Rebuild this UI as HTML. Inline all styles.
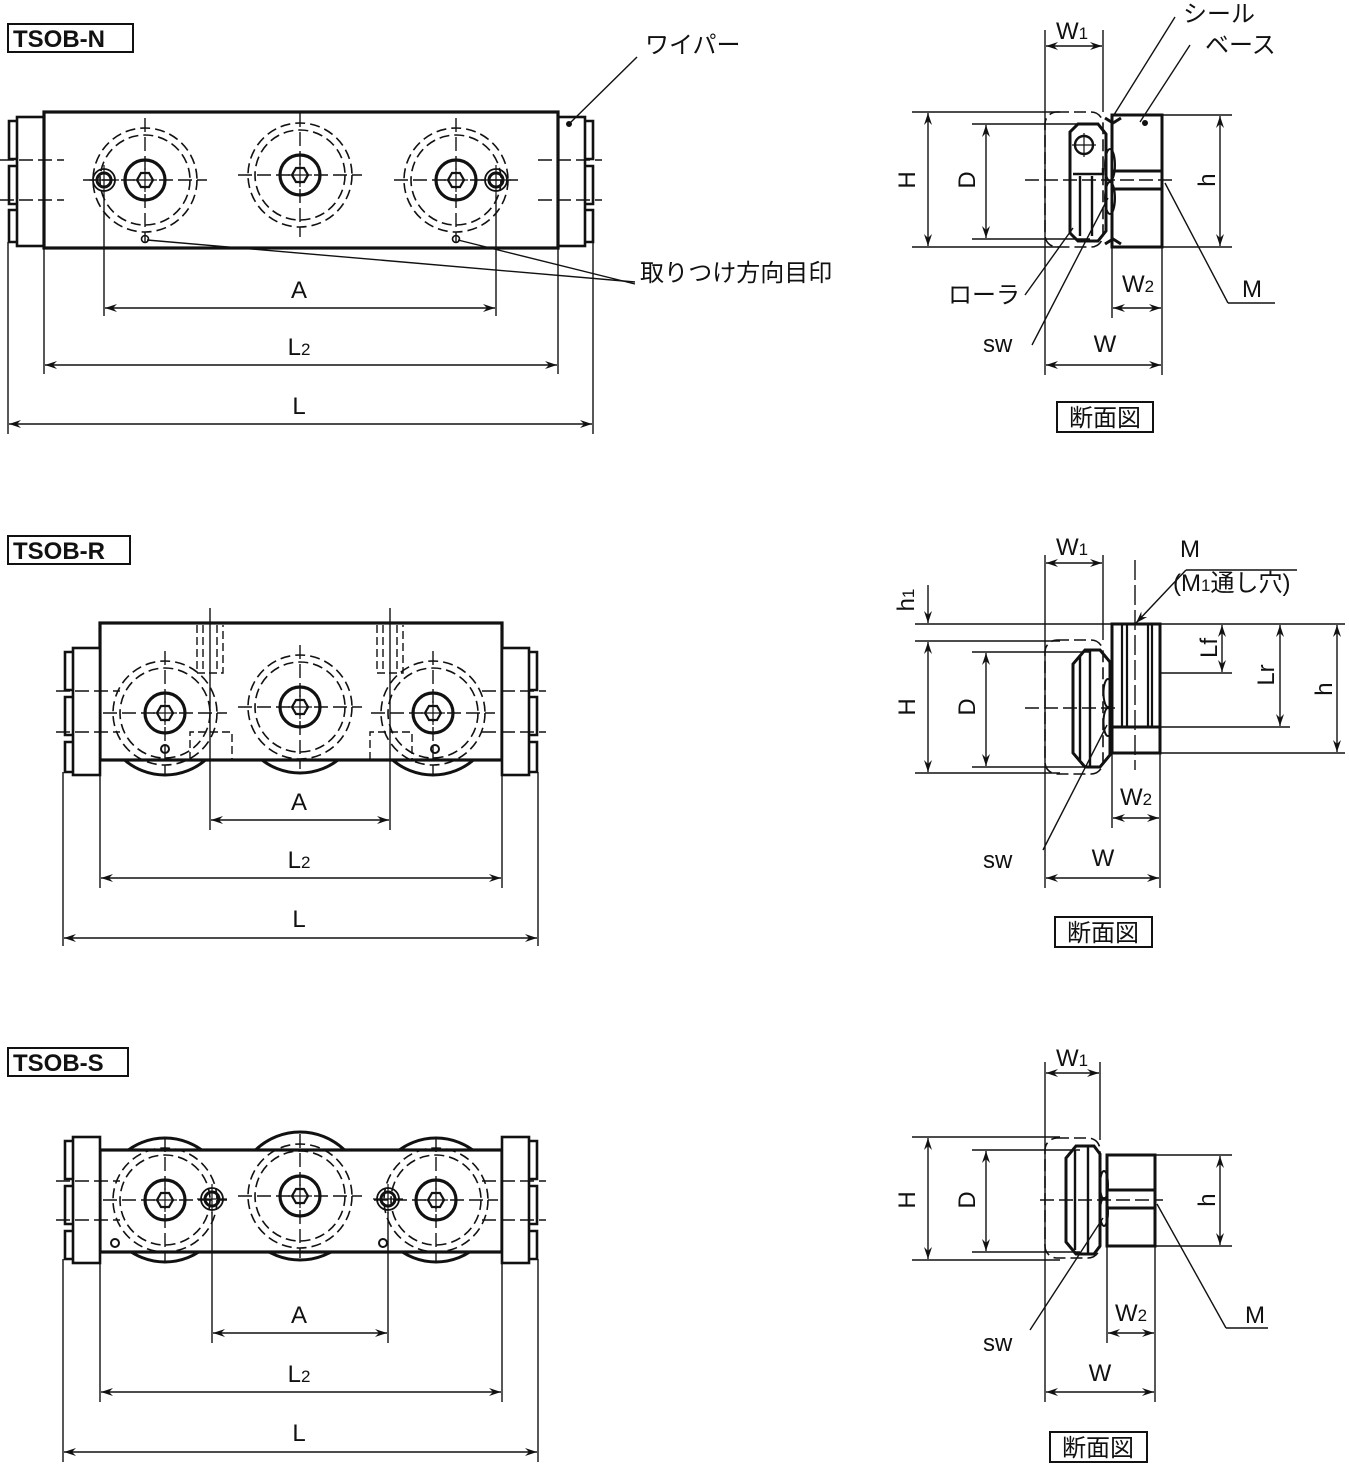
<!DOCTYPE html>
<html><head><meta charset="utf-8"><style>
html,body{margin:0;padding:0;background:#fff;}
svg{display:block;}
text{font-family:"Liberation Sans","Noto Sans CJK JP",sans-serif;fill:#111;}
.t{font-size:24px;}
.b{font-weight:bold;}
</style></head><body>
<svg width="1349" height="1467" viewBox="0 0 1349 1467" xmlns="http://www.w3.org/2000/svg">
<defs>
<marker id="a" viewBox="0 0 12 8" refX="12" refY="4" markerWidth="12" markerHeight="8" orient="auto-start-reverse" markerUnits="userSpaceOnUse"><path d="M0,0 L12,4 L0,8 L4,4 Z" fill="#111"/></marker>
<g id="roll">
<circle r="52" fill="none" stroke="#111" stroke-width="1.6" stroke-dasharray="10,5"/>
<circle r="45" fill="none" stroke="#111" stroke-width="1.6" stroke-dasharray="10,5"/>
<line x1="-62" y1="0" x2="62" y2="0" stroke="#111" stroke-width="1.4" stroke-dasharray="14,5"/>
<line x1="0" y1="-62" x2="0" y2="62" stroke="#111" stroke-width="1.4" stroke-dasharray="14,5"/>
<circle r="20" fill="none" stroke="#111" stroke-width="3.2"/>
<polygon points="8,0 4,7 -4,7 -8,0 -4,-7 4,-7" fill="#fff" stroke="#111" stroke-width="2.2"/>
<line x1="-12" y1="0" x2="12" y2="0" stroke="#111" stroke-width="1.2"/>
<line x1="0" y1="-12" x2="0" y2="12" stroke="#111" stroke-width="1.2"/>
</g>
<g id="pin">
<circle r="11" fill="none" stroke="#111" stroke-width="1.8"/>
<circle r="7" fill="none" stroke="#111" stroke-width="3"/>
<line x1="-15" y1="0" x2="15" y2="0" stroke="#111" stroke-width="1.2"/>
<line x1="0" y1="-15" x2="0" y2="15" stroke="#111" stroke-width="1.2"/>
</g>
</defs>

<g stroke="#111" fill="none">
<!-- ============ TSOB-N ============ -->
<rect x="8" y="24" width="125" height="28" stroke-width="2"/>
<rect x="44" y="112" width="514" height="136" stroke-width="3.2"/>
<rect x="17" y="117" width="27" height="129" stroke-width="2.6"/>
<rect x="558" y="117" width="27" height="129" stroke-width="2.6"/>
<path d="M17,121 h-8 v38 h8 M17,166 h-8 v38 h8 M17,210 h-8 v32 h8" stroke-width="2.6"/>
<path d="M585,121 h8 v38 h-8 M585,166 h8 v38 h-8 M585,210 h8 v32 h-8" stroke-width="2.6"/>
<g stroke-width="1.4" stroke-dasharray="14,5">
<line x1="0" y1="160" x2="64" y2="160"/><line x1="0" y1="200" x2="64" y2="200"/>
<line x1="538" y1="160" x2="602" y2="160"/><line x1="538" y1="200" x2="602" y2="200"/>
</g>
<use href="#roll" x="145" y="180"/>
<use href="#roll" x="300" y="175"/>
<use href="#roll" x="456" y="180"/>
<use href="#pin" x="104" y="180"/>
<use href="#pin" x="496" y="180"/>
<circle cx="145" cy="239" r="3.5" stroke-width="1.6"/>
<circle cx="456" cy="239" r="3.5" stroke-width="1.6"/>
<g stroke-width="1.4">
<line x1="104" y1="195" x2="104" y2="316"/><line x1="496" y1="195" x2="496" y2="316"/>
<line x1="44" y1="248" x2="44" y2="374"/><line x1="558" y1="248" x2="558" y2="374"/>
<line x1="8" y1="242" x2="8" y2="434"/><line x1="593" y1="242" x2="593" y2="434"/>
<line x1="105" y1="308" x2="495" y2="308" marker-start="url(#a)" marker-end="url(#a)"/>
<line x1="45" y1="365" x2="557" y2="365" marker-start="url(#a)" marker-end="url(#a)"/>
<line x1="9" y1="424" x2="592" y2="424" marker-start="url(#a)" marker-end="url(#a)"/>
<line x1="570" y1="123" x2="637" y2="57"/>
<line x1="147" y1="240" x2="635" y2="282"/>
<line x1="458" y1="240" x2="635" y2="284"/>
</g>
<circle cx="569" cy="124" r="2.5" fill="#111"/>

<!-- N section -->
<g stroke-width="1.4">
<line x1="1045" y1="30" x2="1045" y2="375"/>
<line x1="1103" y1="30" x2="1103" y2="112"/>
<line x1="1046" y1="46" x2="1102" y2="46" marker-start="url(#a)" marker-end="url(#a)"/>
<line x1="912" y1="112" x2="1060" y2="112"/><line x1="912" y1="247" x2="1060" y2="247"/>
<line x1="928" y1="113" x2="928" y2="246" marker-start="url(#a)" marker-end="url(#a)"/>
<line x1="972" y1="124" x2="1090" y2="124"/><line x1="972" y1="239" x2="1090" y2="239"/>
<line x1="986" y1="125" x2="986" y2="238" marker-start="url(#a)" marker-end="url(#a)"/>
<line x1="1162" y1="115" x2="1232" y2="115"/><line x1="1162" y1="247" x2="1232" y2="247"/>
<line x1="1220" y1="116" x2="1220" y2="246" marker-start="url(#a)" marker-end="url(#a)"/>
<line x1="1112" y1="247" x2="1112" y2="318"/><line x1="1162" y1="247" x2="1162" y2="375"/>
<line x1="1113" y1="308" x2="1161" y2="308" marker-start="url(#a)" marker-end="url(#a)"/>
<line x1="1046" y1="365" x2="1161" y2="365" marker-start="url(#a)" marker-end="url(#a)"/>
<line x1="1025" y1="180" x2="1175" y2="180" stroke-dasharray="14,5"/>
<line x1="1112" y1="118" x2="1175" y2="17"/>
<line x1="1140" y1="122" x2="1190" y2="45"/>
<line x1="1165" y1="183" x2="1228" y2="303"/><line x1="1228" y1="303" x2="1275" y2="303"/>
<line x1="1073" y1="228" x2="1025" y2="295"/>
<line x1="1108" y1="198" x2="1032" y2="345"/>
</g>
<rect x="1045" y="112" width="58" height="135" rx="12" stroke-width="1.6" stroke-dasharray="12,5"/>
<path d="M1078,124 h20 l8,10 v97 l-8,10 h-20 l-8,-8 v-101 z" stroke-width="3"/>
<circle cx="1084" cy="145" r="9" stroke-width="2.4"/>
<line x1="1072" y1="145" x2="1096" y2="145" stroke-width="1.2"/><line x1="1084" y1="133" x2="1084" y2="157" stroke-width="1.2"/>
<path d="M1073,174 h30 v-6 M1080,176 v60 M1092,176 v60" stroke-width="2.4"/>
<ellipse cx="1110" cy="165" rx="5" ry="16" stroke-width="2"/>
<ellipse cx="1110" cy="198" rx="5" ry="16" stroke-width="2"/>
<rect x="1112" y="115" width="50" height="132" stroke-width="3"/>
<line x1="1112" y1="171" x2="1162" y2="171" stroke-width="3"/><line x1="1112" y1="189" x2="1162" y2="189" stroke-width="3"/>
<path d="M1105,118 l8,5 l8,-5 M1105,244 l8,-5 l8,5" stroke-width="3"/>
<circle cx="1145" cy="123" r="2.5" fill="#111"/>
<rect x="1057" y="402" width="96" height="30" stroke-width="2"/>

<!-- ============ TSOB-R ============ -->
<rect x="8" y="536" width="122" height="28" stroke-width="2"/>
<circle cx="165" cy="713" r="62" stroke-width="3"/>
<circle cx="300" cy="711" r="62" stroke-width="3"/>
<circle cx="433" cy="713" r="62" stroke-width="3"/>
<rect x="100" y="623" width="402" height="137" fill="#fff" stroke-width="3.2"/>
<rect x="73" y="648" width="27" height="127" fill="#fff" stroke-width="2.6"/>
<rect x="502" y="648" width="27" height="127" fill="#fff" stroke-width="2.6"/>
<path d="M73,652 h-8 v38 h8 M73,697 h-8 v38 h8 M73,742 h-8 v30 h8" stroke-width="2.6"/>
<path d="M529,652 h8 v38 h-8 M529,697 h8 v38 h-8 M529,742 h8 v30 h-8" stroke-width="2.6"/>
<g stroke-width="1.4" stroke-dasharray="14,5">
<line x1="56" y1="691" x2="120" y2="691"/><line x1="56" y1="732" x2="120" y2="732"/>
<line x1="482" y1="691" x2="546" y2="691"/><line x1="482" y1="732" x2="546" y2="732"/>
</g>
<use href="#roll" x="165" y="713"/>
<use href="#roll" x="300" y="707"/>
<use href="#roll" x="433" y="713"/>
<circle cx="165" cy="749" r="4" stroke-width="2"/>
<circle cx="435" cy="749" r="4" stroke-width="2"/>
<g stroke-width="1.4" stroke-dasharray="8,4">
<path d="M197,625 v48 h26 v-48 M203,625 v48 M217,625 v48"/>
<path d="M377,625 v48 h26 v-48 M383,625 v48 M397,625 v48"/>
<path d="M190,760 v-28 h42 v28"/><path d="M370,760 v-28 h42 v28"/>
</g>
<g stroke-width="1.4">
<line x1="210" y1="608" x2="210" y2="830"/><line x1="390" y1="608" x2="390" y2="830"/>
<line x1="100" y1="760" x2="100" y2="888"/><line x1="502" y1="760" x2="502" y2="888"/>
<line x1="63" y1="772" x2="63" y2="946"/><line x1="538" y1="772" x2="538" y2="946"/>
<line x1="211" y1="820" x2="389" y2="820" marker-start="url(#a)" marker-end="url(#a)"/>
<line x1="101" y1="878" x2="501" y2="878" marker-start="url(#a)" marker-end="url(#a)"/>
<line x1="64" y1="938" x2="537" y2="938" marker-start="url(#a)" marker-end="url(#a)"/>
</g>

<!-- R section -->
<g stroke-width="1.4">
<line x1="1045" y1="555" x2="1045" y2="888"/>
<line x1="1103" y1="555" x2="1103" y2="640"/>
<line x1="1046" y1="563" x2="1102" y2="563" marker-start="url(#a)" marker-end="url(#a)"/>
<line x1="915" y1="624" x2="1112" y2="624"/><line x1="915" y1="641" x2="1060" y2="641"/>
<line x1="928" y1="585" x2="928" y2="623" marker-end="url(#a)"/>
<line x1="928" y1="642" x2="928" y2="772" marker-start="url(#a)" marker-end="url(#a)"/>
<line x1="915" y1="773" x2="1060" y2="773"/>
<line x1="972" y1="652" x2="1090" y2="652"/><line x1="972" y1="767" x2="1090" y2="767"/>
<line x1="986" y1="653" x2="986" y2="766" marker-start="url(#a)" marker-end="url(#a)"/>
<line x1="1160" y1="624" x2="1345" y2="624"/>
<line x1="1160" y1="673" x2="1232" y2="673"/>
<line x1="1160" y1="727" x2="1290" y2="727"/>
<line x1="1160" y1="753" x2="1345" y2="753"/>
<line x1="1222" y1="625" x2="1222" y2="672" marker-start="url(#a)" marker-end="url(#a)"/>
<line x1="1280" y1="625" x2="1280" y2="726" marker-start="url(#a)" marker-end="url(#a)"/>
<line x1="1337" y1="625" x2="1337" y2="752" marker-start="url(#a)" marker-end="url(#a)"/>
<line x1="1112" y1="753" x2="1112" y2="828"/><line x1="1160" y1="753" x2="1160" y2="888"/>
<line x1="1113" y1="818" x2="1159" y2="818" marker-start="url(#a)" marker-end="url(#a)"/>
<line x1="1046" y1="878" x2="1159" y2="878" marker-start="url(#a)" marker-end="url(#a)"/>
<line x1="1025" y1="708" x2="1120" y2="708" stroke-dasharray="14,5"/>
<line x1="1135" y1="560" x2="1135" y2="770" stroke-dasharray="20,5"/>
<line x1="1186" y1="570" x2="1297" y2="570"/>
<line x1="1186" y1="570" x2="1136" y2="623" marker-end="url(#a)"/>
<line x1="1107" y1="725" x2="1043" y2="850"/>
</g>
<rect x="1045" y="640" width="58" height="134" rx="12" stroke-width="1.6" stroke-dasharray="12,5"/>
<path d="M1085,650 h15 l10,12 v93 l-10,12 h-15 l-12,-14 v-89 z" stroke-width="3"/>
<path d="M1080,655 v105 M1090,650 v117" stroke-width="2.4"/>
<ellipse cx="1108" cy="693" rx="4.5" ry="14" stroke-width="2"/>
<ellipse cx="1108" cy="722" rx="4.5" ry="14" stroke-width="2"/>
<rect x="1112" y="624" width="48" height="129" stroke-width="3"/>
<path d="M1122,624 v103 M1127,624 v103 M1148,624 v103 M1152,624 v103" stroke-width="2.2"/>
<line x1="1112" y1="727" x2="1160" y2="727" stroke-width="3"/>
<rect x="1055" y="917" width="97" height="30" stroke-width="2"/>

<!-- ============ TSOB-S ============ -->
<rect x="8" y="1048" width="120" height="28" stroke-width="2"/>
<circle cx="165" cy="1200" r="62" stroke-width="3"/>
<circle cx="300" cy="1196" r="64" stroke-width="3"/>
<circle cx="436" cy="1200" r="62" stroke-width="3"/>
<rect x="100" y="1150" width="402" height="102" fill="#fff" stroke-width="3.2"/>
<rect x="73" y="1137" width="27" height="126" fill="#fff" stroke-width="2.6"/>
<rect x="502" y="1137" width="27" height="126" fill="#fff" stroke-width="2.6"/>
<path d="M73,1141 h-8 v38 h8 M73,1186 h-8 v38 h8 M73,1231 h-8 v28 h8" stroke-width="2.6"/>
<path d="M529,1141 h8 v38 h-8 M529,1186 h8 v38 h-8 M529,1231 h8 v28 h-8" stroke-width="2.6"/>
<g stroke-width="1.4" stroke-dasharray="14,5">
<line x1="56" y1="1181" x2="120" y2="1181"/><line x1="56" y1="1220" x2="120" y2="1220"/>
<line x1="482" y1="1181" x2="546" y2="1181"/><line x1="482" y1="1220" x2="546" y2="1220"/>
</g>
<use href="#roll" x="165" y="1200"/>
<use href="#roll" x="300" y="1196"/>
<use href="#roll" x="436" y="1200"/>
<use href="#pin" x="212" y="1199"/>
<use href="#pin" x="388" y="1199"/>
<circle cx="115" cy="1243" r="4" stroke-width="2"/>
<circle cx="383" cy="1243" r="4" stroke-width="2"/>
<g stroke-width="1.4">
<line x1="212" y1="1212" x2="212" y2="1343"/><line x1="388" y1="1212" x2="388" y2="1343"/>
<line x1="100" y1="1263" x2="100" y2="1402"/><line x1="502" y1="1263" x2="502" y2="1402"/>
<line x1="63" y1="1259" x2="63" y2="1462"/><line x1="538" y1="1259" x2="538" y2="1462"/>
<line x1="213" y1="1333" x2="387" y2="1333" marker-start="url(#a)" marker-end="url(#a)"/>
<line x1="101" y1="1392" x2="501" y2="1392" marker-start="url(#a)" marker-end="url(#a)"/>
<line x1="64" y1="1452" x2="537" y2="1452" marker-start="url(#a)" marker-end="url(#a)"/>
</g>

<!-- S section -->
<g stroke-width="1.4">
<line x1="1045" y1="1062" x2="1045" y2="1402"/>
<line x1="1100" y1="1062" x2="1100" y2="1140"/>
<line x1="1046" y1="1073" x2="1099" y2="1073" marker-start="url(#a)" marker-end="url(#a)"/>
<line x1="912" y1="1137" x2="1060" y2="1137"/><line x1="912" y1="1260" x2="1060" y2="1260"/>
<line x1="928" y1="1138" x2="928" y2="1259" marker-start="url(#a)" marker-end="url(#a)"/>
<line x1="972" y1="1150" x2="1080" y2="1150"/><line x1="972" y1="1252" x2="1080" y2="1252"/>
<line x1="986" y1="1151" x2="986" y2="1251" marker-start="url(#a)" marker-end="url(#a)"/>
<line x1="1155" y1="1155" x2="1232" y2="1155"/><line x1="1155" y1="1246" x2="1232" y2="1246"/>
<line x1="1220" y1="1156" x2="1220" y2="1245" marker-start="url(#a)" marker-end="url(#a)"/>
<line x1="1107" y1="1246" x2="1107" y2="1343"/><line x1="1155" y1="1246" x2="1155" y2="1402"/>
<line x1="1108" y1="1333" x2="1154" y2="1333" marker-start="url(#a)" marker-end="url(#a)"/>
<line x1="1046" y1="1392" x2="1154" y2="1392" marker-start="url(#a)" marker-end="url(#a)"/>
<line x1="1040" y1="1200" x2="1163" y2="1200" stroke-dasharray="14,5"/>
<line x1="1157" y1="1204" x2="1226" y2="1328"/><line x1="1226" y1="1328" x2="1268" y2="1328"/>
<line x1="1103" y1="1218" x2="1030" y2="1330"/>
</g>
<rect x="1045" y="1138" width="55" height="120" rx="12" stroke-width="1.6" stroke-dasharray="12,5"/>
<path d="M1076,1146 h18 l6,8 v92 l-6,8 h-18 l-10,-12 v-84 z" stroke-width="3"/>
<path d="M1075,1150 v100 M1088,1146 v108" stroke-width="2.4"/>
<ellipse cx="1104" cy="1185" rx="4" ry="14" stroke-width="2"/>
<ellipse cx="1104" cy="1212" rx="4" ry="14" stroke-width="2"/>
<rect x="1107" y="1155" width="48" height="91" stroke-width="3"/>
<line x1="1107" y1="1190" x2="1155" y2="1190" stroke-width="3"/><line x1="1107" y1="1208" x2="1155" y2="1208" stroke-width="3"/>
<rect x="1050" y="1432" width="97" height="30" stroke-width="2"/>
</g>

<!-- Text -->
<text x="13" y="47" class="t b" font-size="24">TSOB-N</text>
<text x="645" y="53" class="t">ワイパー</text>
<text x="640" y="281" class="t">取りつけ方向目印</text>
<text x="299" y="298" class="t" text-anchor="middle">A</text>
<text x="299" y="355" class="t" text-anchor="middle">L<tspan font-size="17">2</tspan></text>
<text x="299" y="414" class="t" text-anchor="middle">L</text>
<text x="1072" y="39" class="t" text-anchor="middle">W<tspan font-size="17">1</tspan></text>
<text x="1183" y="22" class="t">シール</text>
<text x="1205" y="53" class="t">ベース</text>
<text x="915" y="180" class="t" text-anchor="middle" transform="rotate(-90 915 180)">H</text>
<text x="975" y="180" class="t" text-anchor="middle" transform="rotate(-90 975 180)">D</text>
<text x="1215" y="180" class="t" text-anchor="middle" transform="rotate(-90 1215 180)">h</text>
<text x="948" y="303" class="t">ローラ</text>
<text x="1138" y="292" class="t" text-anchor="middle">W<tspan font-size="17">2</tspan></text>
<text x="1242" y="297" class="t">M</text>
<text x="983" y="352" class="t">sw</text>
<text x="1105" y="352" class="t" text-anchor="middle">W</text>
<text x="1105" y="426" class="t" text-anchor="middle" font-size="22">断面図</text>

<text x="13" y="559" class="t b" font-size="24">TSOB-R</text>
<text x="299" y="810" class="t" text-anchor="middle">A</text>
<text x="299" y="868" class="t" text-anchor="middle">L<tspan font-size="17">2</tspan></text>
<text x="299" y="927" class="t" text-anchor="middle">L</text>
<text x="1072" y="555" class="t" text-anchor="middle">W<tspan font-size="17">1</tspan></text>
<text x="1190" y="557" class="t" text-anchor="middle">M</text>
<text x="1173" y="591" class="t">(M<tspan font-size="17">1</tspan>通し穴)</text>
<text x="914" y="600" class="t" text-anchor="middle" transform="rotate(-90 914 600)">h<tspan font-size="17">1</tspan></text>
<text x="915" y="707" class="t" text-anchor="middle" transform="rotate(-90 915 707)">H</text>
<text x="975" y="707" class="t" text-anchor="middle" transform="rotate(-90 975 707)">D</text>
<text x="1217" y="648" class="t" text-anchor="middle" transform="rotate(-90 1217 648)">Lf</text>
<text x="1274" y="675" class="t" text-anchor="middle" transform="rotate(-90 1274 675)">Lr</text>
<text x="1332" y="689" class="t" text-anchor="middle" transform="rotate(-90 1332 689)">h</text>
<text x="1136" y="805" class="t" text-anchor="middle">W<tspan font-size="17">2</tspan></text>
<text x="983" y="868" class="t">sw</text>
<text x="1103" y="866" class="t" text-anchor="middle">W</text>
<text x="1103" y="941" class="t" text-anchor="middle" font-size="22">断面図</text>

<text x="13" y="1071" class="t b" font-size="24">TSOB-S</text>
<text x="299" y="1323" class="t" text-anchor="middle">A</text>
<text x="299" y="1382" class="t" text-anchor="middle">L<tspan font-size="17">2</tspan></text>
<text x="299" y="1441" class="t" text-anchor="middle">L</text>
<text x="1072" y="1066" class="t" text-anchor="middle">W<tspan font-size="17">1</tspan></text>
<text x="915" y="1200" class="t" text-anchor="middle" transform="rotate(-90 915 1200)">H</text>
<text x="975" y="1200" class="t" text-anchor="middle" transform="rotate(-90 975 1200)">D</text>
<text x="1215" y="1200" class="t" text-anchor="middle" transform="rotate(-90 1215 1200)">h</text>
<text x="1131" y="1321" class="t" text-anchor="middle">W<tspan font-size="17">2</tspan></text>
<text x="1245" y="1323" class="t">M</text>
<text x="983" y="1351" class="t">sw</text>
<text x="1100" y="1381" class="t" text-anchor="middle">W</text>
<text x="1098" y="1456" class="t" text-anchor="middle" font-size="22">断面図</text>
</svg>
</body></html>
